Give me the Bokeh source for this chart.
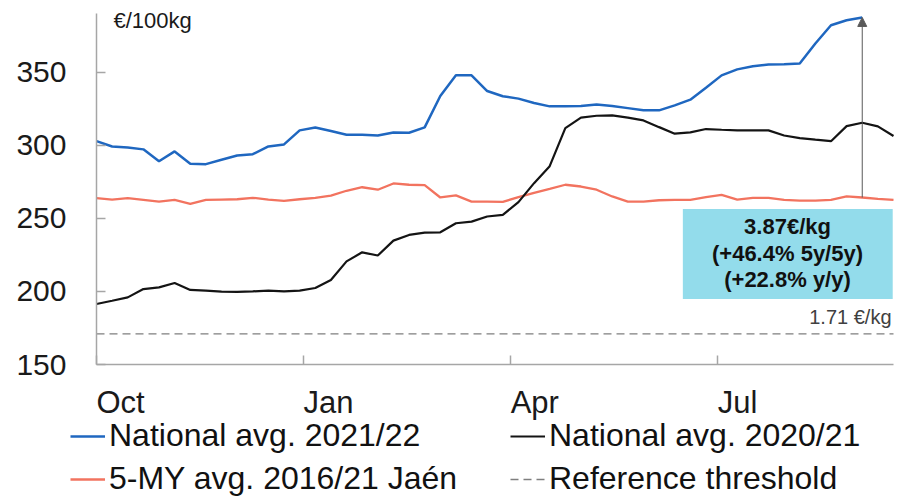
from bokeh.plotting import figure
from bokeh.models import (Range1d, FixedTicker, Label, BoxAnnotation, Arrow, NormalHead,
                          Legend, LegendItem, CustomJSTickFormatter, LinearAxis)
from bokeh.embed import file_html
from bokeh.resources import INLINE

# ---- data (weekly points, index 0 = start of October) ----
national_2122 = [302.7, 299.1, 298.4, 297.1, 289.0, 295.7, 287.3, 287.0, 290.0, 292.9,
                 293.8, 299.1, 300.5, 310.1, 312.1, 309.6, 307.1, 307.1, 306.6, 308.7,
                 308.5, 312.1, 333.6, 347.7, 347.7, 337.0, 333.4, 331.8, 328.8, 326.5,
                 326.5, 326.7, 327.7, 326.7, 325.3, 323.8, 323.8, 327.2, 331.1, 339.3,
                 347.7, 351.8, 353.9, 355.1, 355.3, 355.8, 369.5, 382.0, 385.4, 387.3]
national_2021 = [191.4, 193.6, 195.9, 201.6, 202.7, 205.7, 201.0, 200.5, 199.8, 199.6,
                 200.0, 200.5, 200.0, 200.5, 202.3, 207.8, 220.5, 226.7, 224.5, 234.7,
                 238.6, 240.2, 240.4, 246.6, 247.7, 251.2, 252.3, 261.0, 274.0, 285.6,
                 311.6, 318.8, 320.1, 320.3, 318.8, 316.9, 312.3, 307.8, 308.7, 311.0,
                 310.5, 310.1, 310.1, 310.1, 306.6, 304.8, 303.7, 302.7, 313.0, 315.3,
                 312.8, 306.2]
avg5_jaen = [263.7, 262.8, 263.7, 262.6, 261.4, 262.6, 259.9, 262.6, 262.8, 263.0,
             264.0, 262.8, 261.9, 263.0, 264.0, 265.5, 268.8, 271.2, 269.5, 273.8,
             272.9, 272.6, 264.2, 265.6, 261.4, 261.3, 261.2, 264.4, 267.4, 270.1,
             272.9, 271.7, 269.5, 264.9, 261.4, 261.4, 262.3, 262.5, 262.5, 264.4,
             266.0, 262.8, 264.0, 264.0, 262.5, 262.1, 262.1, 262.5, 264.9, 264.2,
             263.3, 262.6]
threshold = 171.0

weeks_2122 = list(range(len(national_2122)))
weeks_all = list(range(len(national_2021)))

month_ticks = [0, 13.25, 26.5, 39.75]
month_labels = ["Oct", "Jan", "Apr", "Jul"]
y_ticks = [150, 200, 250, 300, 350]
Y_MIN, Y_MAX = 150, 390
X_END = 51

legend_labels = ["National avg. 2021/22", "5-MY avg. 2016/21 Jaén",
                 "National avg. 2020/21", "Reference threshold"]
unit_text = "€/100kg"
threshold_text = "1.71 €/kg"
box_lines = ["3.87€/kg", "(+46.4% 5y/5y)", "(+22.8% y/y)"]

FONT = "Liberation Sans"
BLUE = "#1F67C0"
RED = "#F2735F"
BLACK = "#141414"
GRAY = "#7F7F7F"
AXIS = "#A6A6A6"
TXT = "#1a1a1a"

# ---- layout: the frame fills the whole canvas; axes are pinned inside it ----
W, H = 897, 497
AX_LEFT, AX_RIGHT, AX_TOP, AX_BOTTOM = 96, 893, 13, 364   # pixel box of the axes
sx = (AX_RIGHT - AX_LEFT) / X_END
sy = (AX_BOTTOM - AX_TOP) / (Y_MAX - Y_MIN)
x_range = Range1d(-AX_LEFT / sx, (W - AX_LEFT) / sx)
y_range = Range1d(Y_MIN - (H - AX_BOTTOM) / sy, Y_MAX + AX_TOP / sy)

MONTH_FS = 31
month_em = [1.556, 1.612, 1.556, 1.278]   # label widths so that names start at their tick
label_ticks = [t + em * MONTH_FS / 2 / sx for t, em in zip(month_ticks, month_em)]

p = figure(width=W, height=H, output_backend="svg", toolbar_location=None,
           x_range=x_range, y_range=y_range, min_border=0)
p.outline_line_color = None
p.xgrid.visible = False
p.ygrid.visible = False

# axes
p.yaxis.ticker = FixedTicker(ticks=y_ticks)
p.yaxis.fixed_location = 0
p.yaxis.bounds = (Y_MIN, Y_MAX)
p.yaxis.major_label_text_font = FONT
p.yaxis.major_label_text_font_size = "30px"
p.yaxis.major_label_text_color = TXT
p.yaxis.major_label_standoff = 30
p.xaxis.ticker = FixedTicker(ticks=month_ticks)
p.xaxis.fixed_location = Y_MIN
p.xaxis.bounds = (0, X_END)
p.xaxis.formatter = CustomJSTickFormatter(code="return ''")
p.xaxis.major_label_text_font_size = "1px"
p.xaxis.major_label_standoff = 0
for ax in (p.xaxis, p.yaxis):
    ax.axis_line_color = AXIS
    ax.axis_line_width = 1.5
    ax.major_tick_line_color = AXIS
    ax.major_tick_line_width = 1.5
    ax.major_tick_in = 9
    ax.major_tick_out = 0
    ax.minor_tick_line_color = None

month_axis = LinearAxis(ticker=FixedTicker(ticks=label_ticks), fixed_location=Y_MIN,
                        formatter=CustomJSTickFormatter(args=dict(labels=month_labels),
                                                        code="return labels[index]"),
                        axis_line_color=None, major_tick_line_color=None,
                        minor_tick_line_color=None, major_label_standoff=14,
                        major_label_text_font=FONT,
                        major_label_text_font_size=f"{MONTH_FS}px",
                        major_label_text_color=TXT)
p.add_layout(month_axis, "below")

# series
r_thr = p.line(weeks_all, [threshold] * len(weeks_all), line_color=GRAY,
               line_width=1.3, line_dash="8 5")
r_red = p.line(weeks_all, avg5_jaen, line_color=RED, line_width=2.3)
r_black = p.line(weeks_all, national_2021, line_color=BLACK, line_width=2.2)
r_blue = p.line(weeks_2122, national_2122, line_color=BLUE, line_width=2.5)

# unit label
p.add_layout(Label(x=113, y=H - 20, x_units="screen", y_units="screen", text=unit_text,
                   text_font=FONT, text_font_size="22px", text_color=TXT,
                   text_align="left", text_baseline="alphabetic"))

# threshold label
p.add_layout(Label(x=891, y=H - 316, x_units="screen", y_units="screen", text=threshold_text,
                   text_font=FONT, text_font_size="20px", text_color="#404040",
                   text_align="right", text_baseline="alphabetic"))

# arrow from 5y average to current value
last = len(national_2122) - 1
p.add_layout(Arrow(end=NormalHead(size=9, fill_color="#595959", line_color="#595959"),
                   x_start=last, y_start=avg5_jaen[last], x_end=last, y_end=national_2122[last],
                   line_color="#595959", line_width=1))

# annotation box
p.add_layout(BoxAnnotation(left=37.52, right=50.95, bottom=194.8, top=256.4,
                           fill_color="#93DCEB", fill_alpha=1.0, line_color=None))
for txt, base in zip(box_lines, [226, 253, 279]):
    p.add_layout(Label(x=787, y=H - base, x_units="screen", y_units="screen", text=txt,
                       text_font=FONT, text_font_size="22px", text_font_style="bold",
                       text_color="#111111", text_align="center", text_baseline="alphabetic"))

# legends (two columns under the chart)
common = dict(orientation="vertical", padding=0, margin=0, spacing=6, glyph_width=35,
              glyph_height=20, label_standoff=4, label_text_font=FONT,
              label_text_font_size="32px", label_text_color="#111111",
              border_line_color=None, background_fill_alpha=0)
leg1 = Legend(items=[LegendItem(label=legend_labels[0], renderers=[r_blue]),
                     LegendItem(label=legend_labels[1], renderers=[r_red])],
              location=(70, 0), **common)
leg2 = Legend(items=[LegendItem(label=legend_labels[2], renderers=[r_black]),
                     LegendItem(label=legend_labels[3], renderers=[r_thr])],
              location=(510, 0), **common)
p.add_layout(leg1)
p.add_layout(leg2)

open("out.html", "w").write(file_html(p, INLINE))
